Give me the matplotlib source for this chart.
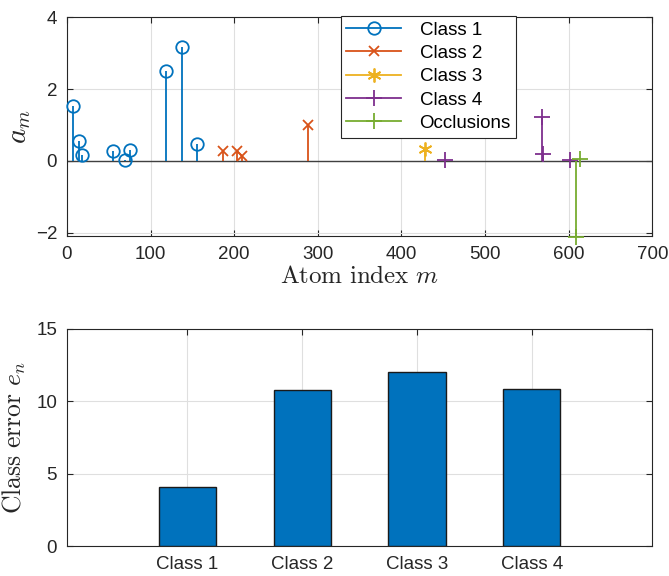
import numpy as np
import matplotlib
matplotlib.use('Agg')
import matplotlib.pyplot as plt
from matplotlib.lines import Line2D

# ── data ─────────────────────────────────────────────────────────────────────
class1_idx = [7, 15, 18, 55, 69, 75, 118, 138, 155]
class1_val = [1.53, 0.56, 0.15, 0.27, 0.03, 0.30, 2.49, 3.16, 0.46]
class2_idx = [187, 204, 209, 288]
class2_val = [0.27, 0.28, 0.13, 1.00]
class3_idx = [428]
class3_val = [0.33]
class4_idx = [452, 568, 569, 602]
class4_val = [0.02, 1.23, 0.20, 0.02]
occl_idx   = [609, 613]
occl_val   = [-2.12, 0.05]

class_names  = ['Class 1', 'Class 2', 'Class 3', 'Class 4']
class_errors = [4.10, 10.77, 12.03, 10.88]

COLORS = ['#0072BD', '#D95319', '#EDB120', '#7E2F8E', '#77AC30']
AXCOL  = '#262626'
GRIDC  = '#DFDFDF'

plt.rcParams['font.family'] = ['Liberation Sans', 'DejaVu Sans']
plt.rcParams['mathtext.fontset'] = 'cm'

fig = plt.figure(figsize=(6.69, 5.76), dpi=100)
ax1 = fig.add_axes([0.100, 0.590, 0.875, 0.380])
ax2 = fig.add_axes([0.100, 0.052, 0.875, 0.377])


def style_axes(ax):
    for s in ax.spines.values():
        s.set_color(AXCOL)
        s.set_linewidth(0.8)
    ax.tick_params(direction='in', length=4, width=0.8, colors=AXCOL,
                   labelsize=13.5, top=True, right=True, labeltop=False,
                   labelright=False, pad=7)
    ax.grid(True, color=GRIDC, linewidth=0.8)
    ax.set_axisbelow(True)


# ── 1. stem plot of coefficients ─────────────────────────────────────────────
series = [
    (class1_idx, class1_val, 'o', 9, 'Class 1'),
    (class2_idx, class2_val, 'x', 7, 'Class 2'),
    (class3_idx, class3_val, (6, 2, 0), 10, 'Class 3'),
    (class4_idx, class4_val, '+', 12, 'Class 4'),
    (occl_idx,   occl_val,   '+', 12, 'Occlusions'),
]
ax1.axhline(0, color='#404040', linewidth=1.0, zorder=2)
leg_handles = []
for (idx, val, mk, ms, name), col in zip(series, COLORS):
    ax1.vlines(idx, 0, val, color=col, linewidth=1.3, zorder=3)
    ax1.plot(idx, val, linestyle='none', marker=mk, markersize=ms,
             markerfacecolor='none', markeredgecolor=col,
             markeredgewidth=1.3, zorder=4, clip_on=False)
    leg_handles.append(Line2D([0, 1], [0, 0], color=col, linewidth=1.3,
                              marker=mk, markersize=ms,
                              markerfacecolor='none', markeredgecolor=col,
                              markeredgewidth=1.3, markevery=[1]))

ax1.set_xlim(0, 700)
ax1.set_ylim(-2.1, 4)
ax1.set_xticks(np.arange(0, 701, 100))
ax1.set_yticks([-2, 0, 2, 4])
style_axes(ax1)
ax1.set_xlabel(r'$\mathrm{Atom\ index}\ m$', fontsize=18, labelpad=1,
               color=AXCOL)
ax1.set_ylabel(r'$a_m$', fontsize=21, labelpad=2, color=AXCOL)

leg = ax1.legend(leg_handles, [s[4] for s in series], loc='upper left',
                 bbox_to_anchor=(0.468, 1.006), borderaxespad=0,
                 fontsize=13.5, handlelength=2.9, handletextpad=1.0,
                 labelspacing=0.33, borderpad=0.3, fancybox=False,
                 framealpha=1, edgecolor=AXCOL)
leg.get_frame().set_linewidth(0.8)

# ── 2. class error bars ──────────────────────────────────────────────────────
pos = np.arange(1, len(class_names) + 1)
ax2.bar(pos, class_errors, width=0.5, color=COLORS[0], edgecolor='#1a1a1a',
        linewidth=1.0, zorder=3)
ax2.set_xlim(-0.05, 5.05)
ax2.set_ylim(0, 15)
ax2.set_xticks(pos)
ax2.set_xticklabels(class_names)
ax2.set_yticks([0, 5, 10, 15])
style_axes(ax2)
ax2.set_ylabel(r'$\mathrm{Class\ error}\ e_n$', fontsize=18.5, labelpad=6,
               color=AXCOL)

fig.savefig('out.png', dpi=100)
